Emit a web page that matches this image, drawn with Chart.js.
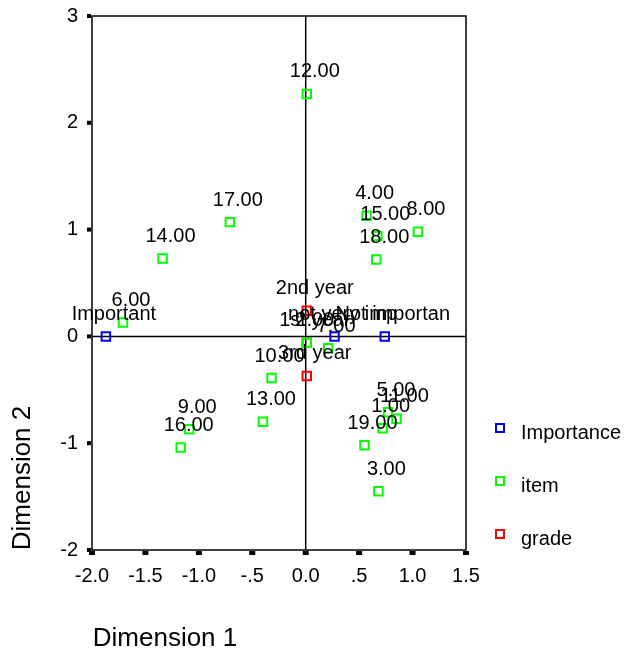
<!DOCTYPE html>
<html>
<head>
<meta charset="utf-8">
<script src="https://cdn.jsdelivr.net/npm/chart.js@4"></script>
<style>
  html, body { margin: 0; padding: 0; background: #fff; }
  #wrap { width: 631px; height: 654px; }
</style>
</head>
<body>
<div id="wrap"><canvas id="c" width="631" height="654"></canvas></div>
<script>
// joint plot of category points (Importance / item / grade)
const importanceLabels = ["Important", "not very imp", "Not importan"];
const importanceX = [-1.87, 0.27, 0.74];
const importanceY = [0.0, 0.0, 0.0];

const itemLabels = ["1.00", "2.00", "3.00", "4.00", "5.00", "6.00", "7.00", "8.00", "9.00", "10.00",
  "11.00", "12.00", "13.00", "14.00", "15.00", "16.00", "17.00", "18.00", "19.00"];
const itemX = [0.72, 0.01, 0.68, 0.57, 0.77, -1.71, 0.21, 1.05, -1.09, -0.32,
  0.85, 0.01, -0.40, -1.34, 0.67, -1.17, -0.71, 0.66, 0.55];
const itemY = [-0.86, -0.06, -1.45, 1.13, -0.71, 0.13, -0.11, 0.98, -0.87, -0.39,
  -0.77, 2.27, -0.80, 0.73, 0.94, -1.04, 1.07, 0.72, -1.02];

const gradeLabels = ["1st year", "2nd year", "3rd year"];
const gradeX = [0.01, 0.01, 0.01];
const gradeY = [-0.06, 0.24, -0.37];

const xTicks = [-2.0, -1.5, -1.0, -0.5, 0.0, 0.5, 1.0, 1.5];
const xTickText = ["-2.0", "-1.5", "-1.0", "-.5", "0.0", ".5", "1.0", "1.5"];
const yTicks = [3, 2, 1, 0, -1, -2];

const FONT = "'Liberation Sans', Arial, sans-serif";
const pts = (xs, ys) => xs.map((x, i) => ({ x, y: ys[i] }));

const series = [
  { label: "Importance", color: "#0000ff", data: pts(importanceX, importanceY), names: importanceLabels },
  { label: "item", color: "#00ff00", data: pts(itemX, itemY), names: itemLabels },
  { label: "grade", color: "#ff0000", data: pts(gradeX, gradeY), names: gradeLabels },
];

const decor = {
  id: "decor",
  beforeDatasetsDraw(chart) {
    const { ctx, chartArea: a, scales: { x, y } } = chart;
    ctx.save();
    ctx.strokeStyle = "#000";
    ctx.lineWidth = 1.5;
    ctx.strokeRect(a.left, a.top, a.right - a.left, a.bottom - a.top);
    const x0 = x.getPixelForValue(0), y0 = y.getPixelForValue(0);
    ctx.beginPath();
    ctx.moveTo(x0, a.top); ctx.lineTo(x0, a.bottom);
    ctx.moveTo(a.left, y0); ctx.lineTo(a.right, y0);
    ctx.stroke();
    // tick marks
    ctx.fillStyle = "#000";
    yTicks.forEach((v) => { const py = y.getPixelForValue(v); ctx.fillRect(a.left - 5, py - 2, 4, 4); });
    xTicks.forEach((v) => { const px = x.getPixelForValue(v); ctx.fillRect(px - 3, a.bottom + 1, 6, 4); });
    ctx.restore();
  },
  afterDatasetsDraw(chart) {
    const { ctx } = chart;
    ctx.save();
    ctx.fillStyle = "#000";
    ctx.font = "20px " + FONT;
    ctx.textAlign = "center";
    ctx.textBaseline = "middle";
    chart.data.datasets.forEach((ds, di) => {
      const meta = chart.getDatasetMeta(di);
      meta.data.forEach((el, i) => ctx.fillText(series[di].names[i], el.x + 8, el.y - 22));
    });
    // legend
    const ly = [428, 481, 534];
    series.forEach((s, i) => {
      ctx.strokeStyle = s.color;
      ctx.lineWidth = 2;
      ctx.strokeRect(496, ly[i] - 4, 8, 8);
      ctx.textAlign = "left";
      ctx.fillText(s.label, 521, ly[i] + 5);
    });
    // axis titles
    ctx.font = "26px " + FONT;
    ctx.textAlign = "center";
    ctx.fillText("Dimension 1", 165, 639);
    ctx.translate(23, 478);
    ctx.rotate(-Math.PI / 2);
    ctx.fillText("Dimension 2", 0, 0);
    ctx.restore();
  },
};

new Chart(document.getElementById("c"), {
  type: "scatter",
  data: {
    datasets: series.map((s) => ({
      label: s.label, data: s.data,
      pointStyle: "rect", pointRadius: 6, pointHoverRadius: 6,
      borderColor: s.color, backgroundColor: "rgba(255,255,255,0)", borderWidth: 2,
    })),
  },
  options: {
    responsive: false, animation: false,
    layout: { padding: { top: 16, right: 165, left: 0, bottom: 0 } },
    plugins: { legend: { display: false }, tooltip: { enabled: false } },
    scales: {
      x: {
        type: "linear", min: -2, max: 1.5,
        afterBuildTicks: (s) => { s.ticks = xTicks.map((v) => ({ value: v })); },
        afterFit: (s) => { s.height = 104; s.paddingLeft = 0; s.paddingRight = 0; },
        ticks: { color: "#000", font: { size: 20, family: FONT }, padding: 14, maxRotation: 0,
          callback: (v) => xTickText[xTicks.indexOf(v)] ?? "" },
        grid: { display: false, drawTicks: false }, border: { display: false },
      },
      y: {
        type: "linear", min: -2, max: 3,
        afterBuildTicks: (s) => { s.ticks = yTicks.map((v) => ({ value: v })); },
        afterFit: (s) => { s.width = 92; s.paddingTop = 0; s.paddingBottom = 0; },
        ticks: { color: "#000", font: { size: 20, family: FONT }, padding: 14, callback: (v) => String(v) },
        grid: { display: false, drawTicks: false }, border: { display: false },
      },
    },
  },
  plugins: [decor],
});
</script>
</body>
</html>
